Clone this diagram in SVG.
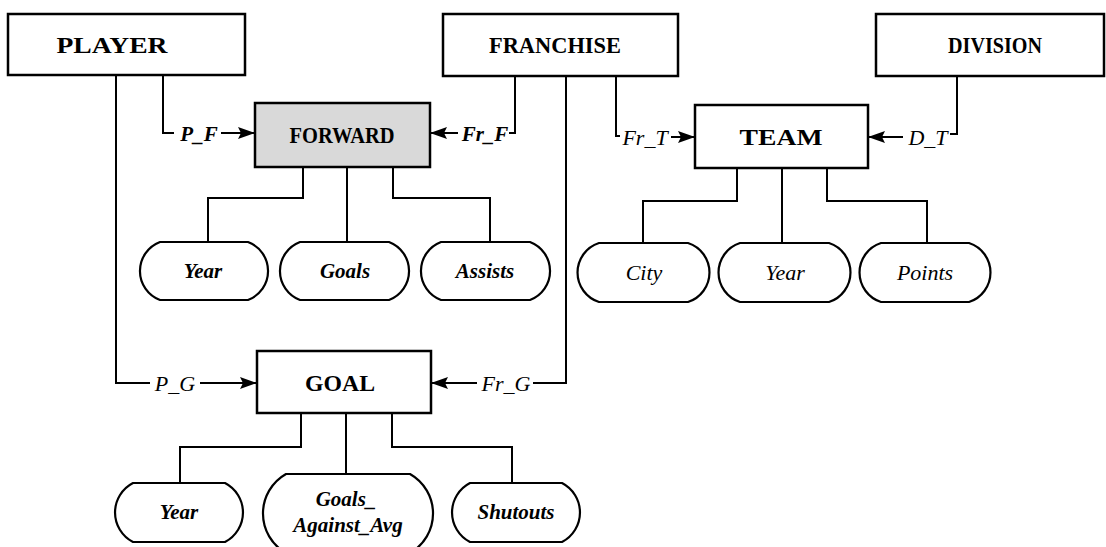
<svg xmlns="http://www.w3.org/2000/svg" width="1106" height="547" viewBox="0 0 1106 547">
<defs>
<marker id="arr" markerWidth="18" markerHeight="14" refX="17" refY="6" orient="auto" markerUnits="userSpaceOnUse">
<path d="M0,0 L17,6 L0,12 L3,6 Z" fill="#000"/>
</marker>
</defs>
<style>
.box{fill:#fff;stroke:#000;stroke-width:2.5}
.shade{fill:#d9d9d9}
.shade2{fill:#e9e9e9}
.attr{fill:#fff;stroke:#000;stroke-width:2.2}
.ln{fill:none;stroke:#000;stroke-width:2}
.ent{font-family:"Liberation Serif",serif;font-weight:bold;font-size:24px;text-anchor:middle}
.at{font-family:"Liberation Serif",serif;font-weight:bold;font-style:italic;font-size:21px;text-anchor:middle}
.at2{font-family:"Liberation Serif",serif;font-style:italic;font-size:22px;text-anchor:middle}
.rel{font-family:"Liberation Serif",serif;font-style:italic;font-size:22px;text-anchor:middle}
.relb{font-family:"Liberation Serif",serif;font-style:italic;font-weight:bold;font-size:21px;text-anchor:middle}
</style>
<rect width="1106" height="547" fill="#fff"/>

<g id="connectors">
<!-- PLAYER to FORWARD -->
<path class="ln" d="M163,75 V133 H174"/>
<path class="ln" d="M221,133 H255" marker-end="url(#arr)"/>
<text class="relb" x="199" y="141">P_F</text>
<!-- FRANCHISE to FORWARD -->
<path class="ln" d="M458,133 H430" marker-end="url(#arr)"/>
<path class="ln" d="M509,133 H515 V76"/>
<text class="relb" x="485" y="141">Fr_F</text>
<!-- FRANCHISE to TEAM -->
<path class="ln" d="M616,76 V136 H620"/>
<path class="ln" d="M671,137 H695" marker-end="url(#arr)"/>
<text class="rel" x="645" y="145">Fr_T</text>
<!-- DIVISION to TEAM -->
<path class="ln" d="M903,137 H868" marker-end="url(#arr)"/>
<path class="ln" d="M950,134 H957 V76"/>
<text class="rel" x="928" y="145">D_T</text>
<!-- PLAYER to GOAL -->
<path class="ln" d="M116,75 V383 H150"/>
<path class="ln" d="M200,383 H257" marker-end="url(#arr)"/>
<text class="rel" x="175" y="391">P_G</text>
<!-- FRANCHISE to GOAL -->
<path class="ln" d="M477,383 H431" marker-end="url(#arr)"/>
<path class="ln" d="M533,383 H566 V76"/>
<text class="rel" x="506" y="391">Fr_G</text>
<!-- FORWARD attributes -->
<path class="ln" d="M303,167 V198 H208 V242"/>
<path class="ln" d="M347,167 V242"/>
<path class="ln" d="M393,167 V198 H490 V242"/>
<!-- TEAM attributes -->
<path class="ln" d="M737,168 V201 H643 V243"/>
<path class="ln" d="M782,168 V243"/>
<path class="ln" d="M827,168 V201 H927 V243"/>
<!-- GOAL attributes -->
<path class="ln" d="M301,413 V447 H180 V483"/>
<path class="ln" d="M346,413 V474"/>
<path class="ln" d="M392,413 V447 H512 V483"/>
</g>

<g id="PLAYER">
<rect class="box" x="8" y="14" width="237" height="61"/>
<text class="ent" x="112" y="53" textLength="111" lengthAdjust="spacingAndGlyphs">PLAYER</text>
</g>
<g id="FRANCHISE">
<rect class="box" x="443" y="14" width="235" height="62"/>
<text class="ent" x="555" y="53" textLength="132" lengthAdjust="spacingAndGlyphs">FRANCHISE</text>
</g>
<g id="DIVISION">
<rect class="box" x="876" y="14" width="228" height="62"/>
<text class="ent" x="995" y="53" textLength="94" lengthAdjust="spacingAndGlyphs">DIVISION</text>
</g>
<g id="FORWARD">
<rect class="box shade" x="255" y="103" width="175" height="64"/>
<text class="ent" x="342" y="143" textLength="105" lengthAdjust="spacingAndGlyphs">FORWARD</text>
</g>
<g id="TEAM">
<rect class="box" x="695" y="105" width="173" height="63"/>
<text class="ent" x="781" y="145" textLength="83" lengthAdjust="spacingAndGlyphs">TEAM</text>
</g>
<g id="GOAL">
<rect class="box" x="257" y="351" width="174" height="62"/>
<text class="ent" x="340" y="391" textLength="70" lengthAdjust="spacingAndGlyphs">GOAL</text>
</g>

<g id="F_Year">
<path class="attr" d="M160,242 H248 A31,31 0 0 1 248,300 H160 A31,31 0 0 1 160,242 Z"/>
<text class="at" x="203" y="278">Year</text>
</g>
<g id="F_Goals">
<path class="attr shade2" d="M300,242 H389 A31,31 0 0 1 389,300 H300 A31,31 0 0 1 300,242 Z"/>
<text class="at" x="345" y="278">Goals</text>
</g>
<g id="F_Assists">
<path class="attr" d="M441,242 H530 A31,31 0 0 1 530,300 H441 A31,31 0 0 1 441,242 Z"/>
<text class="at" x="485" y="278">Assists</text>
</g>

<g id="T_City">
<path class="attr" d="M599,243 H688 A31,31 0 0 1 688,302 H599 A31,31 0 0 1 599,243 Z"/>
<text class="at2" x="644" y="280">City</text>
</g>
<g id="T_Year">
<path class="attr" d="M740,243 H829 A31,31 0 0 1 829,302 H740 A31,31 0 0 1 740,243 Z"/>
<text class="at2" x="785" y="280">Year</text>
</g>
<g id="T_Points">
<path class="attr" d="M881,243 H969 A31,31 0 0 1 969,302 H881 A31,31 0 0 1 881,243 Z"/>
<text class="at2" x="925" y="280">Points</text>
</g>

<g id="G_Year">
<path class="attr" d="M133,483 H225 A33.2,33.2 0 0 1 225,542 H133 A33.2,33.2 0 0 1 133,483 Z"/>
<text class="at" x="179" y="519">Year</text>
</g>
<g id="G_GAA">
<path class="attr" d="M286,474 H410 A45.4,45.4 0 0 1 410,553 H286 A45.4,45.4 0 0 1 286,474 Z"/>
<text class="at" x="346" y="506">Goals_</text>
<text class="at" x="348" y="532">Against_Avg</text>
</g>
<g id="G_Shutouts">
<path class="attr" d="M470,483 H562 A33.2,33.2 0 0 1 562,542 H470 A33.2,33.2 0 0 1 470,483 Z"/>
<text class="at" x="516" y="519">Shutouts</text>
</g>
</svg>
